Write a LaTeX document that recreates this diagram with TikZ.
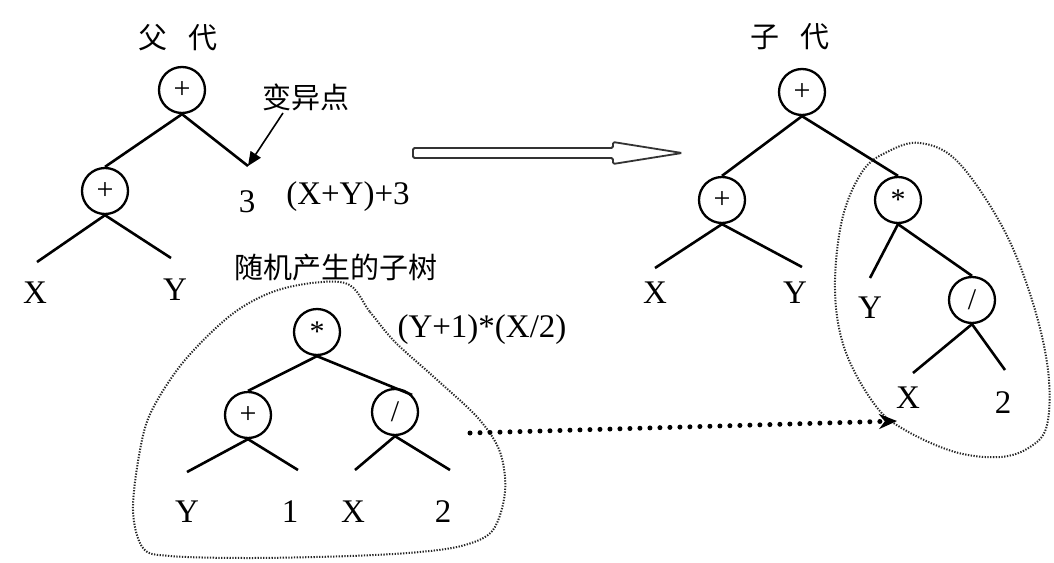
\documentclass[tikz,border=0pt]{standalone}
\usepackage{fontspec}
\setmainfont{Liberation Serif}
\newfontfamily\cjk{Noto Sans CJK SC}
\usetikzlibrary{arrows.meta}
\begin{document}
\begin{tikzpicture}[x=1pt,y=-1pt,
  op/.style={circle,draw,line width=2.3pt,minimum size=46pt,inner sep=0pt,font=\fontsize{30}{30}\selectfont},
  lf/.style={inner sep=0pt,font=\fontsize{33}{33}\selectfont},
  br/.style={line width=2.6pt},
  cn/.style={inner sep=0pt,font=\cjk\fontsize{29}{29}\selectfont},
  blob/.style={draw=black!85,line width=2pt,dash pattern=on 1.3pt off 1.5pt}]
\fill[white] (0,0) rectangle (1054,562);
\useasboundingbox (0,0) rectangle (1054,562);

% ---------- parent tree ----------
\node[cn] (t1) at (178,38) {父\hspace{22pt}代};
\node[op] (p1) at (182,90) {+};
\node[op] (p2) at (105,191) {+};
\coordinate (p3e) at (248,166);
\node[lf] (p3) at (247,202) {3};
\coordinate (pxe) at (37,262);
\coordinate (pye) at (171,258);
\node[lf] (px) at (35,293) {X};
\node[lf] (py) at (175,290) {Y};
\draw[br] (p1.south) -- (p2.north);
\draw[br] (p1.south) -- (p3e);
\draw[br] (p2.south) -- (pxe);
\draw[br] (p2.south) -- (pye);
\node[cn] (mut) at (306,97) {变异点};
\coordinate (mute) at (283,113);
\draw[line width=1.6pt,-{Triangle[length=14pt,width=12pt]}] (mute) -- (p3e);
\node[lf] (pexpr) at (348,197) {(X+Y)+3};

% ---------- hollow arrow ----------
\draw[line width=1.8pt,draw=black!80,fill=white,rounded corners=1.5pt]
  (413,148) -- (613,148) -- (613,142) -- (682,153) -- (613,164) -- (613,158) -- (413,158) -- cycle;

% ---------- child tree ----------
\node[cn] (t2) at (790,37) {子\hspace{22pt}代};
\node[op] (c1) at (802,92) {+};
\node[op] (c2) at (722,200) {+};
\node[op] (c3) at (898,200) {*};
\node[op] (c4) at (972,300) {/};
\coordinate (cxe) at (655,268);
\coordinate (cye) at (802,267);
\coordinate (cy2e) at (870,278);
\coordinate (cx2e) at (913,373);
\coordinate (c2e) at (1005,370);
\node[lf] (cx) at (655,293) {X};
\node[lf] (cy) at (795,293) {Y};
\node[lf] (cy2) at (870,308) {Y};
\node[lf] (cx2) at (908,398) {X};
\node[lf] (c2l) at (1003,403) {2};
\draw[br] (c1.south) -- (c2.north);
\draw[br] (c1.south) -- (c3.north);
\draw[br] (c2.south) -- (cxe);
\draw[br] (c2.south) -- (cye);
\draw[br] (c3.south) -- (cy2e);
\draw[br] (c3.south) -- (c4.north);
\draw[br] (c4.south) -- (cx2e);
\draw[br] (c4.south) -- (c2e);
\draw[blob] plot[smooth cycle,tension=0.6] coordinates {
  (887,152) (920,143) (958,162) (1003,228) (1032,300) (1048,370) (1047,425)
  (1030,447) (1000,457) (955,452) (905,430) (875,405) (845,350) (835,290)
  (842,220) (862,172)};

% ---------- random subtree ----------
\node[cn] (t3) at (336,268) {随机产生的子树};
\node[op] (b1) at (317,332) {*};
\node[op] (b2) at (248,415) {+};
\node[op] (b3) at (395,412) {/};
\coordinate (bye) at (187,472);
\coordinate (b1e) at (298,470);
\coordinate (bxe) at (355,470);
\coordinate (b2e) at (450,470);
\node[lf] (by) at (187,512) {Y};
\node[lf] (b1l) at (290,512) {1};
\node[lf] (bx) at (353,512) {X};
\node[lf] (b2l) at (443,512) {2};
\draw[br] (b1.south) -- (b2.north);
\draw[br] (b1.south) -- (b3.north east);
\draw[br] (b2.south) -- (bye);
\draw[br] (b2.south) -- (b1e);
\draw[br] (b3.south) -- (bxe);
\draw[br] (b3.south) -- (b2e);
\node[lf] (bexpr) at (482,330) {(Y+1)*(X/2)};
\draw[blob] plot[smooth cycle,tension=0.55] coordinates {
  (345,283) (370,312) (395,342) (435,378) (478,418) (500,452) (505,492)
  (493,530) (465,545) (420,552) (350,556) (250,558) (170,556) (143,548)
  (133,510) (140,450) (152,410) (185,360) (235,312) (285,288)};

% ---------- dotted transfer arrow ----------
\coordinate (ds) at (470,433);
\coordinate (dt) at (897,421);
\draw[line width=5pt,dash pattern=on 0pt off 10pt,line cap=round,
  -{Stealth[length=18pt,width=15pt]}] (ds) -- (dt);
\end{tikzpicture}
\end{document}
